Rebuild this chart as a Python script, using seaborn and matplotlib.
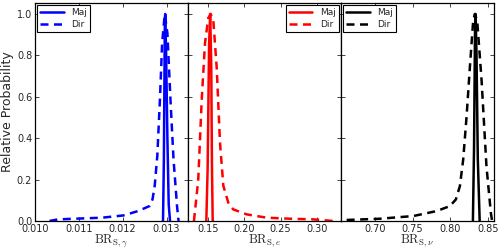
import numpy as np
import pandas as pd
import matplotlib
matplotlib.use("Agg")
import matplotlib.pyplot as plt
import seaborn as sns

# values
gam_maj_x = [0.01292, 0.01294, 0.01296, 0.01297, 0.01299, 0.01302, 0.01305, 0.01308]
gam_maj_y = [0.0, 0.30, 0.92, 1.0, 0.82, 0.40, 0.08, 0.0]
gam_dir_x = [0.01033, 0.01053, 0.01153, 0.01202, 0.01235, 0.01261, 0.01268, 0.01273,
             0.01279, 0.01285, 0.01290, 0.01296, 0.01302, 0.01309, 0.01316, 0.01324,
             0.01327, 0.01328]
gam_dir_y = [0.0, 0.008, 0.016, 0.027, 0.048, 0.072, 0.104, 0.169,
             0.315, 0.588, 0.859, 1.0, 0.907, 0.586, 0.297, 0.072,
             0.008, 0.0]

ele_maj_x = [0.1477, 0.1495, 0.1515, 0.1530, 0.1545, 0.1555, 0.1565]
ele_maj_y = [0.0, 0.25, 0.85, 1.0, 0.75, 0.25, 0.0]
ele_dir_x = [0.1307, 0.1366, 0.1413, 0.1459, 0.1504, 0.1537, 0.1573, 0.1620,
             0.1665, 0.1711, 0.1780, 0.1848, 0.2033, 0.2308, 0.2630, 0.2950, 0.3226]
ele_dir_y = [0.0, 0.20, 0.58, 0.86, 0.98, 1.0, 0.97, 0.74,
             0.38, 0.17, 0.088, 0.056, 0.032, 0.016, 0.011, 0.008, 0.0]

nu_maj_x = [0.8300, 0.8315, 0.8328, 0.8336, 0.8348, 0.8365, 0.8390]
nu_maj_y = [0.0, 0.35, 0.92, 1.0, 0.80, 0.30, 0.0]
nu_dir_x = [0.6625, 0.7066, 0.7510, 0.7818, 0.7995, 0.8074, 0.8127, 0.8171,
            0.8216, 0.8260, 0.8304, 0.8326, 0.8357, 0.8415, 0.8480, 0.8538, 0.8555]
nu_dir_y = [0.005, 0.011, 0.024, 0.048, 0.072, 0.104, 0.168, 0.296,
            0.504, 0.744, 0.968, 1.0, 0.968, 0.68, 0.264, 0.04, 0.0]

panels = [
    ("b", gam_maj_x, gam_maj_y, gam_dir_x, gam_dir_y, (0.01009, 0.01349),
     [0.010, 0.011, 0.012, 0.013], ["0.010", "0.011", "0.012", "0.013"],
     r"$\mathrm{BR}_{\mathrm{S},\gamma}$", "upper left"),
    ("r", ele_maj_x, ele_maj_y, ele_dir_x, ele_dir_y, (0.1225, 0.333),
     [0.15, 0.20, 0.25, 0.30], ["0.15", "0.20", "0.25", "0.30"],
     r"$\mathrm{BR}_{\mathrm{S},e}$", "upper right"),
    ("k", nu_maj_x, nu_maj_y, nu_dir_x, nu_dir_y, (0.655, 0.858),
     [0.70, 0.75, 0.80, 0.85], ["0.70", "0.75", "0.80", "0.85"],
     r"$\mathrm{BR}_{\mathrm{S},\nu}$", "upper left"),
]

sns.set_style("ticks")
plt.rcParams["font.family"] = ["DejaVu Sans"]
plt.rcParams["mathtext.fontset"] = "cm"

fig, axes = plt.subplots(1, 3, figsize=(5, 2.5), dpi=100, sharey=True)
fig.subplots_adjust(left=0.07, right=0.988, bottom=0.116, top=0.988, wspace=0)

for ax, (col, mx, my, dx, dy, xlim, ticks, tlabels, xlab, loc) in zip(axes, panels):
    sns.lineplot(x=mx, y=my, ax=ax, color=col, lw=1.8, label="Maj")
    sns.lineplot(x=dx, y=dy, ax=ax, color=col, lw=1.8, linestyle=(0, (3.2, 2.2)), label="Dir")
    ax.set_xlim(*xlim)
    ax.set_ylim(0, 1.053)
    ax.set_xticks(ticks)
    ax.set_xticklabels(tlabels)
    ax.set_xlabel(xlab, fontsize=9, labelpad=-1)
    ax.tick_params(direction="in", top=True, right=True, labelsize=7, length=3, width=0.6, pad=2)
    for s in ax.spines.values():
        s.set_linewidth(0.9)
        s.set_color("black")
    leg = ax.legend(loc=loc, fontsize=6.5, frameon=True, fancybox=False, borderpad=0.35,
                    handlelength=2.6, labelspacing=0.3, borderaxespad=0.25)
    leg.get_frame().set_edgecolor("black")
    leg.get_frame().set_linewidth(0.8)
    leg.get_frame().set_alpha(1)

axes[0].set_yticks([0.0, 0.2, 0.4, 0.6, 0.8, 1.0])
axes[0].set_ylabel("Relative Probability", fontsize=9, labelpad=2)

fig.savefig("out.png", dpi=100)
